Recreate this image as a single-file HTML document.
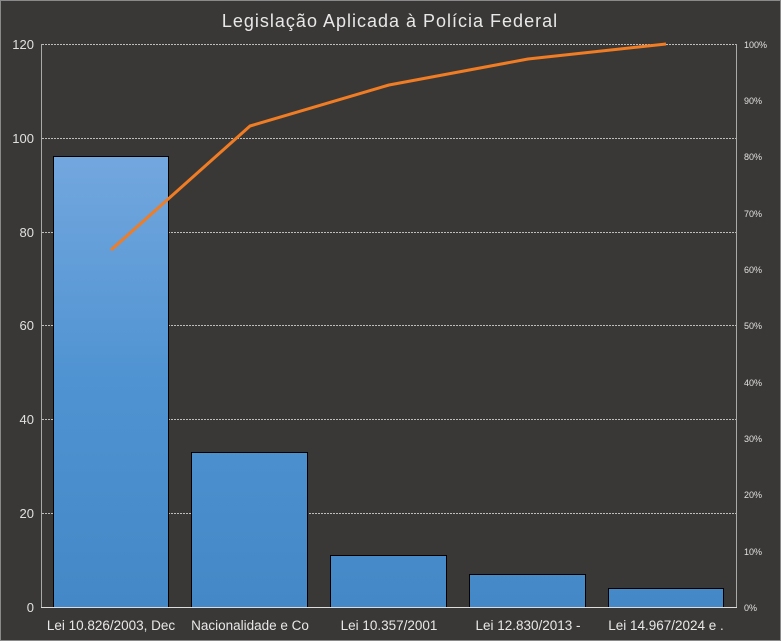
<!DOCTYPE html><html><head><style>body{margin:0;background:#3a3836}svg{display:block}</style></head><body>
<svg width="781" height="641" xmlns="http://www.w3.org/2000/svg" font-family="Liberation Sans, sans-serif">
<defs><linearGradient id="g" gradientUnits="userSpaceOnUse" x1="0" y1="156" x2="0" y2="607"><stop offset="0" stop-color="#73a7de"/><stop offset="0.5" stop-color="#4f93d2"/><stop offset="1" stop-color="#4488c7"/></linearGradient></defs>
<rect x="0.5" y="0.5" width="780" height="640" fill="#3a3836" stroke="#8a8a8a"/>
<text x="390" y="27" text-anchor="middle" fill="#e8e8e8" font-size="18" letter-spacing="1">Legislação Aplicada à Polícia Federal</text>
<g stroke="#bdbdbd" stroke-width="1" stroke-dasharray="2,1">
<line x1="42" y1="44.5" x2="736" y2="44.5"/><line x1="42" y1="138.5" x2="736" y2="138.5"/><line x1="42" y1="232.5" x2="736" y2="232.5"/><line x1="42" y1="325.5" x2="736" y2="325.5"/><line x1="42" y1="419.5" x2="736" y2="419.5"/><line x1="42" y1="513.5" x2="736" y2="513.5"/></g>
<g stroke="#000" stroke-width="1" fill="url(#g)">
<rect x="53.5" y="156.5" width="115" height="451"/>
<rect x="191.5" y="452.5" width="116" height="155"/>
<rect x="330.5" y="555.5" width="116" height="52"/>
<rect x="469.5" y="574.5" width="116" height="33"/>
<rect x="608.5" y="588.5" width="115" height="19"/></g>
<line x1="41.5" y1="44" x2="41.5" y2="607" stroke="#aaa"/>
<line x1="736.5" y1="44" x2="736.5" y2="607" stroke="#aaa"/>
<line x1="41" y1="607.5" x2="737" y2="607.5" stroke="#ddd"/>
<g fill="#e0e0e0" font-size="13" text-anchor="end">
<text x="34" y="49">120</text><text x="34" y="143">100</text><text x="34" y="237">80</text><text x="34" y="330">60</text><text x="34" y="424">40</text><text x="34" y="518">20</text><text x="34" y="612">0</text></g>
<g fill="#e0e0e0" font-size="9">
<text x="744" y="48">100%</text><text x="744" y="104">90%</text><text x="744" y="160">80%</text><text x="744" y="217">70%</text><text x="744" y="273">60%</text><text x="744" y="329">50%</text><text x="744" y="386">40%</text><text x="744" y="442">30%</text><text x="744" y="498">20%</text><text x="744" y="555">10%</text><text x="744" y="611">0%</text></g>
<g fill="#e8e8e8" font-size="13.5" text-anchor="middle">
<text x="111" y="630">Lei 10.826/2003, Dec</text><text x="250" y="630">Nacionalidade e Co</text><text x="389" y="630">Lei 10.357/2001</text><text x="528" y="630">Lei 12.830/2013 -</text><text x="666" y="630">Lei 14.967/2024 e .</text></g>
<polyline points="111,250 250,126 389,85 528,59 666,44" fill="none" stroke="#f07c24" stroke-width="3" stroke-linejoin="round"/>
</svg></body></html>
